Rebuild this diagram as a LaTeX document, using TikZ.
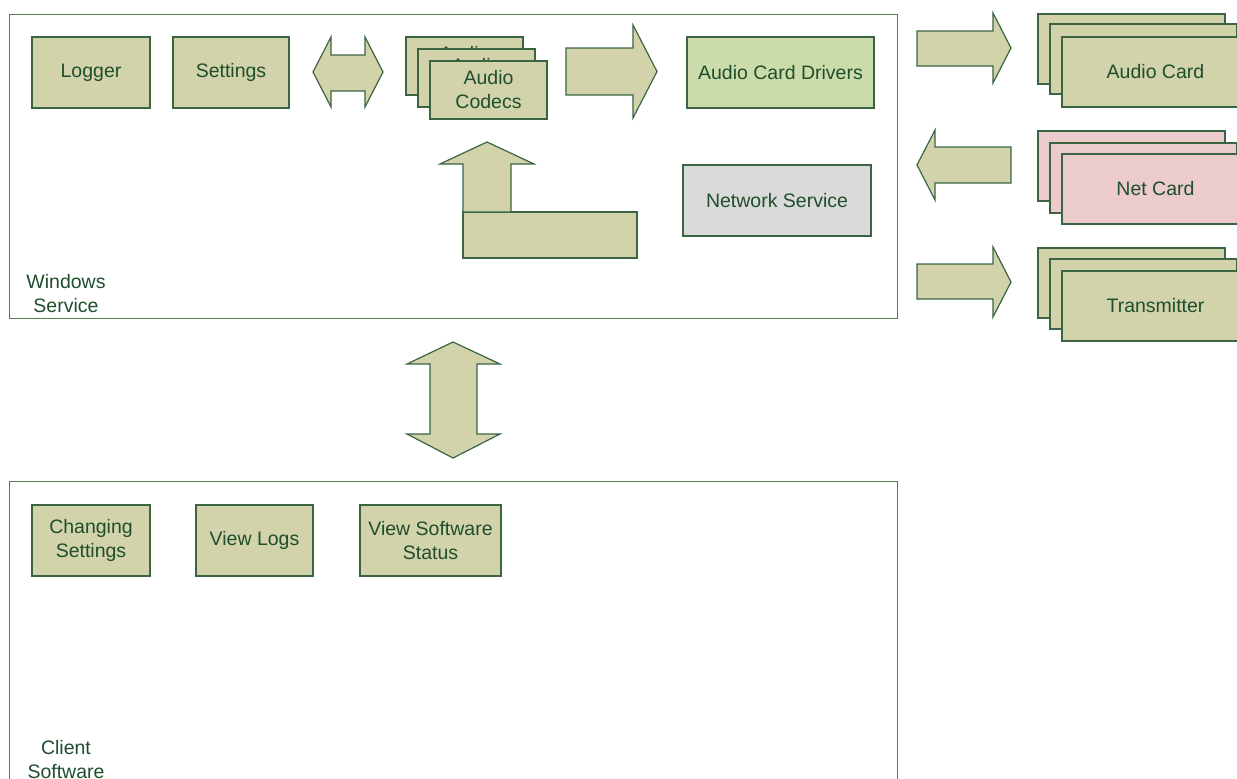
\documentclass[tikz,border=0pt]{standalone}
\usepackage{fontspec}
\setmainfont{Liberation Sans}
\definecolor{tan}{RGB}{210,211,170}
\definecolor{bd}{RGB}{58,100,66}
\definecolor{tx}{RGB}{30,78,44}
\definecolor{drv}{RGB}{204,219,170}
\definecolor{netg}{RGB}{218,218,218}
\definecolor{pink}{RGB}{235,203,203}
\definecolor{outer}{RGB}{80,125,90}
\newcommand{\fs}{\fontsize{19.5}{24}\selectfont}
\tikzset{
  box/.style={draw=bd, fill=tan, line width=1.2pt, text=tx, font=\fs, align=center, inner sep=0pt, minimum width=118pt, minimum height=71pt},
  card/.style={box, minimum width=187pt, minimum height=70pt},
  blockarrow/.style={draw=bd, fill=tan, line width=1.2pt, line join=miter},
  area/.style={draw=outer, line width=1pt},
  lbl/.style={text=tx, font=\fs, align=center, inner sep=0pt}
}
\begin{document}
\begin{tikzpicture}[x=1pt,y=-1pt]
\clip (0,0) rectangle (1237,779);
\fill[white] (0,0) rectangle (1237,779);
% outer areas
\draw[area] (9,14) rectangle (897,318);
\draw[area] (9,481) rectangle (897,800);
\node[lbl] (ws) at (66,294) {Windows\\Service};
\node[lbl] (cs) at (66,760) {Client\\Software};
% top row
\node[box] (logger) at (91,72.5) {Logger};
\node[box, minimum width=116pt] (settings) at (231,72.5) {Settings};
\node[box, fill=drv, minimum width=187pt] (drivers) at (780.5,72.5) {Audio Card Drivers};
\node[box, fill=netg, minimum width=188pt] (network) at (777,200.5) {Network Service};
% codecs stack
\node[box, minimum width=117pt, minimum height=58pt] (codec3) at (464.5,66) {Audio\\Codecs};
\node[box, minimum width=117pt, minimum height=58pt] (codec2) at (476.5,78) {Audio\\Codecs};
\node[box, minimum width=117pt, minimum height=58pt] (codec1) at (488.5,90) {Audio\\Codecs};
% arrows inside service
\draw[blockarrow] (313,72) -- (331,37) -- (331,55) -- (365,55) -- (365,37) -- (383,72) -- (365,107) -- (365,91) -- (331,91) -- (331,107) -- cycle;
\draw[blockarrow] (566,48) -- (633,48) -- (633,25) -- (657,71.5) -- (633,118) -- (633,95) -- (566,95) -- cycle;
\draw[blockarrow] (463,212) rectangle (637,258);
\draw[blockarrow] (463,212) -- (463,164) -- (440,164) -- (487,142) -- (534,164) -- (511,164) -- (511,212) -- cycle;
% right side arrows
\draw[blockarrow] (917,31) -- (993,31) -- (993,13) -- (1011,48) -- (993,83) -- (993,66) -- (917,66) -- cycle;
\draw[blockarrow] (1011,147) -- (935,147) -- (935,130) -- (917,165) -- (935,200) -- (935,183) -- (1011,183) -- cycle;
\draw[blockarrow] (917,264) -- (993,264) -- (993,247) -- (1011,282) -- (993,317) -- (993,299) -- (917,299) -- cycle;
% right side stacks
\node[card] (ac3) at (1131.5,49) {};
\node[card] (ac2) at (1143.5,59) {};
\node[card] (ac1) at (1155.5,72) {Audio Card};
\node[card, fill=pink] (nc3) at (1131.5,166) {};
\node[card, fill=pink] (nc2) at (1143.5,178) {};
\node[card, fill=pink] (nc1) at (1155.5,189) {Net Card};
\node[card] (tr3) at (1131.5,283) {};
\node[card] (tr2) at (1143.5,294) {};
\node[card] (tr1) at (1155.5,306) {Transmitter};
% vertical double arrow
\draw[blockarrow] (453,342) -- (500,364) -- (477,364) -- (477,434) -- (500,434) -- (453,458) -- (407,434) -- (430,434) -- (430,364) -- (407,364) -- cycle;
% client boxes
\node[box] (chg) at (91,540.5) {Changing\\Settings};
\node[box, minimum width=117pt] (logs) at (254.5,540.5) {View Logs};
\node[box, minimum width=141pt] (status) at (430.5,540.5) {View Software\\Status};
\end{tikzpicture}
\end{document}
